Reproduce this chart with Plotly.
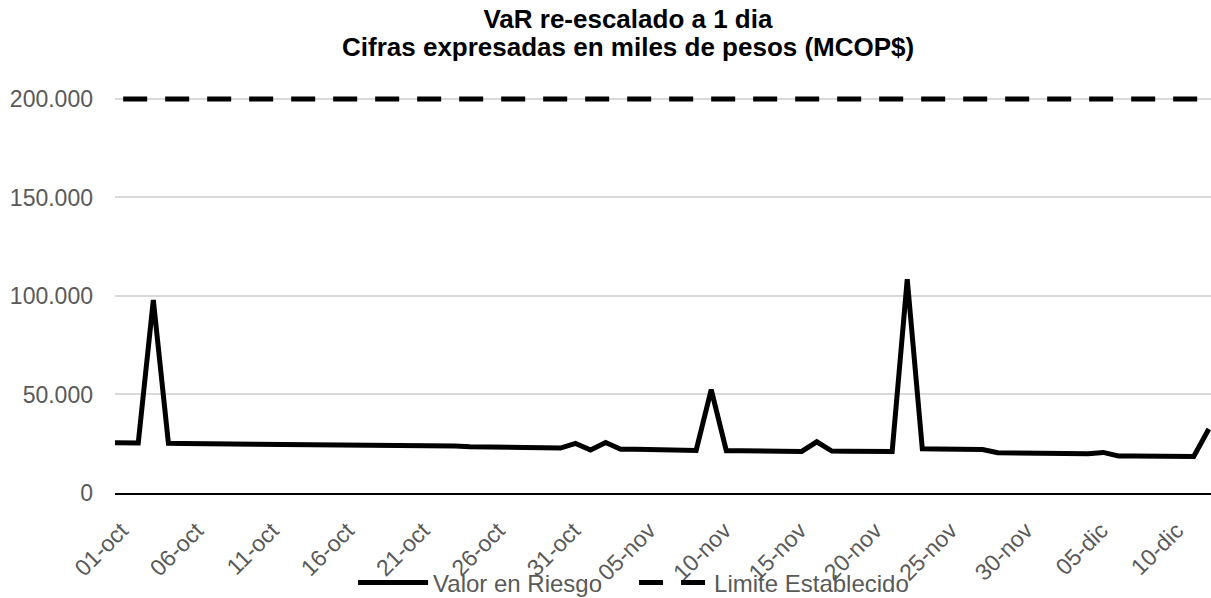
import plotly.graph_objects as go
import pandas as pd

# ---- data ----
dates = pd.date_range("2023-09-30", "2023-12-12", freq="D").strftime("%Y-%m-%d").tolist()

var_values = [
    25500,  # 30-sep
    # octubre
    25500, 25400, 98000, 25200, 25150, 25100, 25050, 25000, 24950, 24900,
    24650, 24600, 24550, 24500, 24450, 24400, 24300, 24250, 24200, 24100,
    23900, 23850, 23800, 23500, 23450, 23400, 23350, 23300, 23100, 22800,
    25200,
    # noviembre
    21800, 25600, 22200, 22150, 22100, 22000, 21900, 21600, 52500, 21500,
    21450, 21400, 21350, 21200, 21100, 26000, 21300, 21250, 21200, 21150,
    21100, 108500, 22400, 22350, 22300, 22250, 22100, 20400, 20350, 20300,
    # diciembre
    20200, 20150, 20100, 19900, 20600, 18800, 18750, 18700, 18650, 18550,
    18500, 32500,
]

limit_values = [None] + [200000] * (len(dates) - 1)

tick_dates = ["2023-10-01", "2023-10-06", "2023-10-11", "2023-10-16", "2023-10-21",
              "2023-10-26", "2023-10-31", "2023-11-05", "2023-11-10", "2023-11-15",
              "2023-11-20", "2023-11-25", "2023-11-30", "2023-12-05", "2023-12-10"]
tick_labels = ["01-oct", "06-oct", "11-oct", "16-oct", "21-oct", "26-oct", "31-oct",
               "05-nov", "10-nov", "15-nov", "20-nov", "25-nov", "30-nov",
               "05-dic", "10-dic"]

y_ticks = [0, 50000, 100000, 150000, 200000]

title_line1 = "VaR re-escalado a 1 dia"
title_line2 = "Cifras expresadas en miles de pesos (MCOP$)"

# label anchor placement relative to the day (Excel-style)
tick_positions = [(pd.Timestamp(d) - pd.Timedelta(hours=3)).strftime("%Y-%m-%d %H:%M")
                  for d in tick_dates]

# ---- figure ----
FONT = "Liberation Sans, Arial, sans-serif"
GRAY = "#595959"

fig = go.Figure()
fig.add_trace(go.Scatter(
    x=dates, y=var_values, mode="lines", name="Valor en Riesgo",
    line=dict(color="black", width=5),
))
fig.add_trace(go.Scatter(
    x=dates, y=limit_values, mode="lines", name="Limite Establecido",
    line=dict(color="black", width=5, dash="24px,18px"),
))

fig.update_layout(
    width=1211, height=598,
    margin=dict(l=115, r=0, t=95, b=105, autoexpand=False),
    paper_bgcolor="white", plot_bgcolor="white",
    separators=",.",
    title=dict(
        text="<b>" + title_line1 + "</b>",
        x=0.468, xanchor="center", xref="paper",
        y=1 - 19 / 598, yanchor="middle", yref="container",
        font=dict(family=FONT, size=26, color="black"),
    ),
    annotations=[dict(
        text="<b>" + title_line2 + "</b>",
        x=0.468, xanchor="center", xref="paper",
        y=1 + (95 - 47) / 398, yanchor="middle", yref="paper",
        showarrow=False,
        font=dict(family=FONT, size=26, color="black"),
    )],
    font=dict(family=FONT, color=GRAY),
    showlegend=True,
    legend=dict(
        orientation="h", x=0.2172, xanchor="left", y=-0.226, yanchor="middle",
        font=dict(family=FONT, size=24, color=GRAY),
        bgcolor="rgba(0,0,0,0)", itemwidth=70, entrywidth=196,
    ),
)

fig.update_xaxes(
    type="date",
    range=["2023-09-30 11:00", "2023-12-12 03:30"],
    tickvals=tick_positions, ticktext=tick_labels,
    tickangle=-45,
    tickfont=dict(family=FONT, size=23, color=GRAY),
    showgrid=False, zeroline=False,
    showline=True, linecolor="black", linewidth=2,
    ticks="", ticklabelstandoff=13, automargin=False,
)
fig.update_yaxes(
    range=[0, 202000],
    tickvals=y_ticks, tickformat=",d",
    tickfont=dict(family=FONT, size=23, color=GRAY),
    showgrid=True, gridcolor="#d9d9d9", gridwidth=1.5,
    zeroline=False, showline=False, ticks="",
    ticklabelstandoff=21, automargin=False,
)

fig.write_html(
    "out.html",
    config={"displayModeBar": False},
    post_script="document.body.style.margin='0';document.body.style.padding='0';"
                "document.documentElement.style.overflow='hidden';",
)
